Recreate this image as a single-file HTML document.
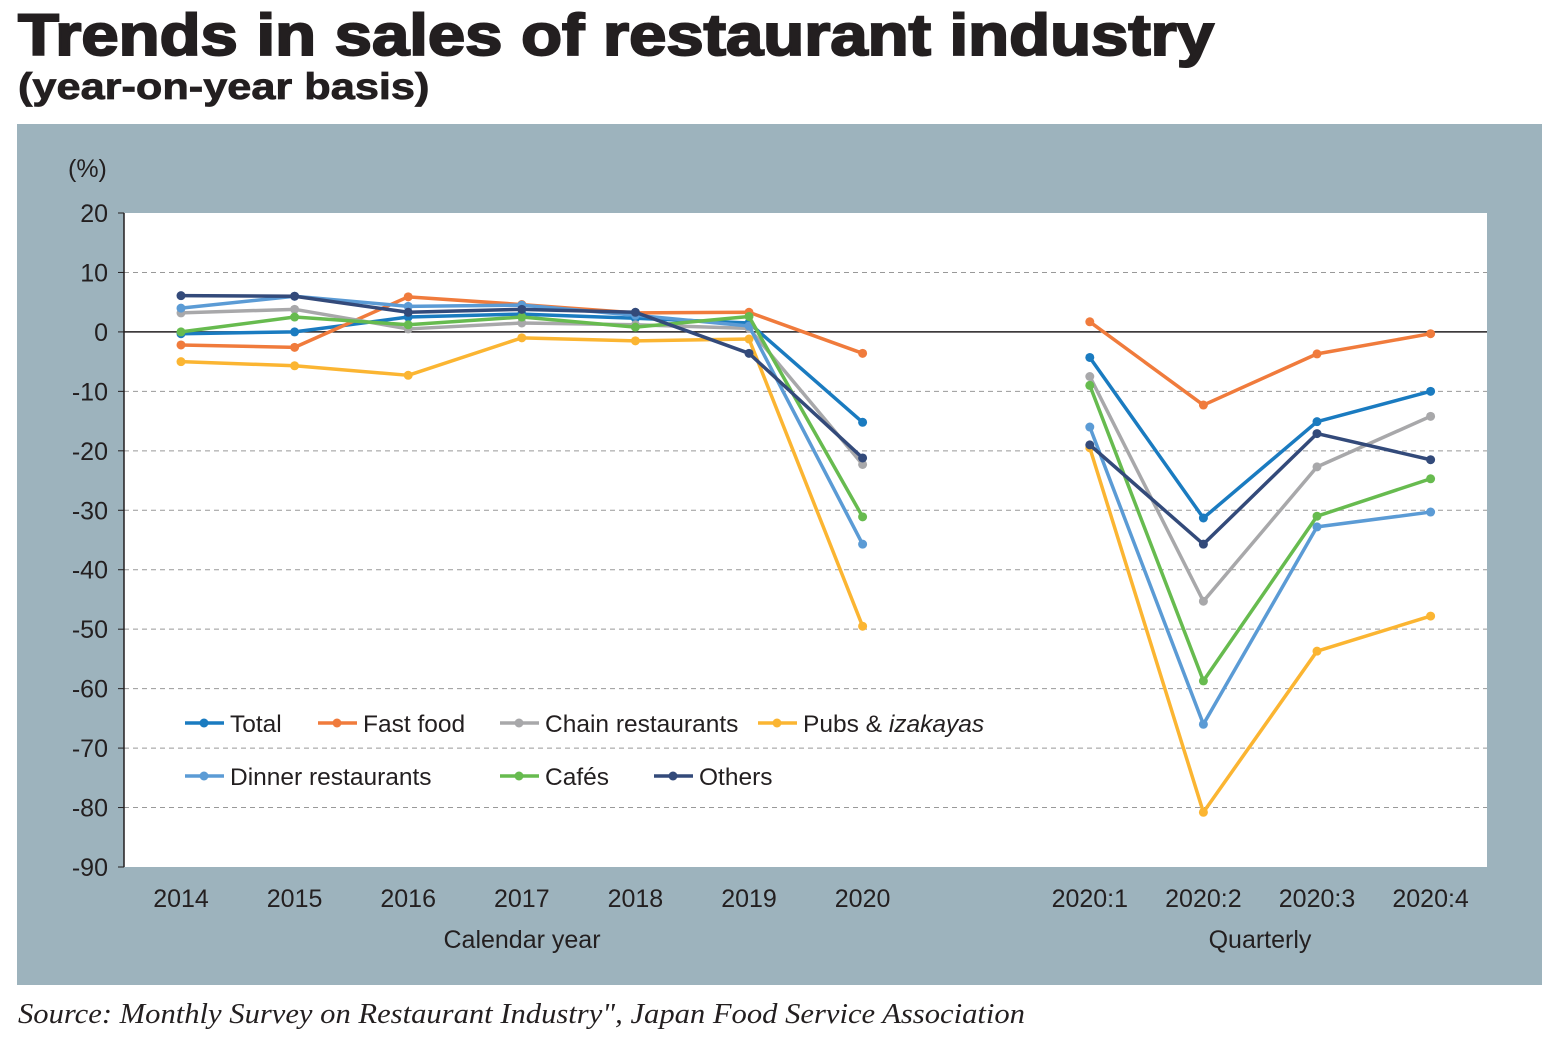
<!DOCTYPE html>
<html><head><meta charset="utf-8"><style>
body{margin:0;width:1554px;height:1046px;background:#fff;font-family:"Liberation Sans",sans-serif;overflow:hidden}
#t1{position:absolute;left:18px;top:2px;font-size:58px;font-weight:900;color:#231f20;-webkit-text-stroke:2px #231f20;transform-origin:0 0;transform:scaleX(1.156);white-space:nowrap}
#t2{position:absolute;left:18px;top:66px;font-size:37px;font-weight:bold;color:#231f20;-webkit-text-stroke:0.8px #231f20;transform-origin:0 0;transform:scaleX(1.17);white-space:nowrap}
#src{position:absolute;left:18px;top:998px;font-family:"Liberation Serif",serif;font-style:italic;font-size:29px;color:#231f20;transform-origin:0 0;transform:scaleX(1.055);white-space:nowrap}
svg{position:absolute;left:0;top:0}
</style></head><body>
<div id="t1">Trends in sales of restaurant industry</div>
<div id="t2">(year-on-year basis)</div>
<svg id="c" width="1554" height="1046"></svg>
<div id="src">Source: Monthly Survey on Restaurant Industry", Japan Food Service Association</div>
<script>
const categories=["2014","2015","2016","2017","2018","2019","2020","","2020:1","2020:2","2020:3","2020:4"];
const yTicks=[20,10,0,-10,-20,-30,-40,-50,-60,-70,-80,-90];
const seriesNames=["Total","Fast food","Chain restaurants","Pubs & izakayas","Dinner restaurants","Cafés","Others"];
const seriesColors=["#1a7bc0","#f07b3c","#a8a8aa","#fbb532","#5b9bd5","#67bb4f","#334a7a"];
const total=[-0.3,0,2.5,3,2.3,1.5,-15.2,null,-4.3,-31.3,-15.1,-10.0];
const fastFood=[-2.2,-2.6,5.9,4.6,3.2,3.3,-3.6,null,1.7,-12.3,-3.7,-0.3];
const chain=[3.2,3.8,0.5,1.5,1.2,0.6,-22.3,null,-7.5,-45.3,-22.7,-14.2];
const pubs=[-5.0,-5.7,-7.3,-1.0,-1.5,-1.2,-49.5,null,-19.5,-80.8,-53.7,-47.8];
const dinner=[4.0,6.0,4.3,4.5,2.8,1.0,-35.7,null,-16.0,-66.0,-32.8,-30.3];
const cafes=[0.0,2.5,1.2,2.5,0.8,2.6,-31.1,null,-9.0,-58.7,-31.0,-24.7];
const others=[6.1,6.0,3.3,3.8,3.3,-3.6,-21.2,null,-19.0,-35.7,-17.1,-21.5];
const allSeries=[total,fastFood,chain,pubs,dinner,cafes,others];

const svg=document.getElementById('c');const NS="http://www.w3.org/2000/svg";
function mk(tag,a,p){const e=document.createElementNS(NS,tag);for(const k in a)e.setAttribute(k,a[k]);(p||svg).appendChild(e);return e;}
const L=124,R=1487,T=213,B=867;
const y=v=>T+(20-v)*(B-T)/110;
const x=i=>181+i*113.6;
let e=mk('rect',{x:17,y:124,width:1525,height:861,fill:'#9db3bd'});


e=mk('rect',{x:L,y:T,width:R-L,height:B-T,fill:'#fff'});


yTicks.forEach(v=>{
 if(v!==0&&v!==20&&v!==-90){const g=mk('line',{x1:L,x2:R,y1:y(v),y2:y(v),stroke:'#999','stroke-dasharray':'5,4','stroke-width':1});
 
 }
 const t=mk('text',{x:108,y:y(v)+9,'text-anchor':'end','font-size':25,fill:'#231f20'});t.textContent=v;
 
 
 mk('line',{x1:L-6,x2:L,y1:y(v),y2:y(v),stroke:'#231f20'});
});
mk('line',{x1:L,x2:R,y1:y(0),y2:y(0),stroke:'#231f20','stroke-width':1.5});
mk('line',{x1:L,x2:L,y1:T,y2:B,stroke:'#231f20','stroke-width':1.5});
let t=mk('text',{x:68,y:177,'font-size':25,fill:'#231f20'});t.textContent='(%)';


categories.forEach((c,i)=>{if(!c)return;const tt=mk('text',{x:x(i),y:907,'text-anchor':'middle','font-size':25,fill:'#231f20'});tt.textContent=c;
 
 });
t=mk('text',{x:522,y:948,'text-anchor':'middle','font-size':25,fill:'#231f20'});t.textContent='Calendar year';


t=mk('text',{x:1260,y:948,'text-anchor':'middle','font-size':25,fill:'#231f20'});t.textContent='Quarterly';


allSeries.forEach((s,k)=>{
 const g=mk('g',{});
 
 
 [[0,7],[8,12]].forEach(([a,b])=>{let d='';for(let i=a;i<b;i++)d+=(i===a?'M':'L')+x(i)+','+y(s[i]);
  mk('path',{d:d,fill:'none',stroke:seriesColors[k],'stroke-width':3.5,'stroke-linejoin':'round'},g);});
 s.forEach((v,i)=>{if(v===null)return;const p=mk('circle',{cx:x(i),cy:y(v),r:4.5,fill:seriesColors[k]},g);
  
  });
});
// [lineX, y]
const legPos=[[185,723],[318,723],[500,723],[758,723],[185,776],[500,776],[654,776]];
legPos.forEach(([lx,ly],k)=>{
 const g=mk('g',{});
 
 
 mk('line',{x1:lx,x2:lx+39,y1:ly,y2:ly,stroke:seriesColors[k],'stroke-width':3.5},g);
 mk('circle',{cx:lx+19,cy:ly,r:4.5,fill:seriesColors[k]},g);
 const tx=mk('text',{x:lx+45,y:ly+9,'font-size':24.5,fill:'#231f20'},g);
 if(k===3){tx.textContent='Pubs & ';const sp=mk('tspan',{'font-style':'italic'},tx);sp.textContent='izakayas';}
 else tx.textContent=seriesNames[k];
});
</script>
</body></html>
